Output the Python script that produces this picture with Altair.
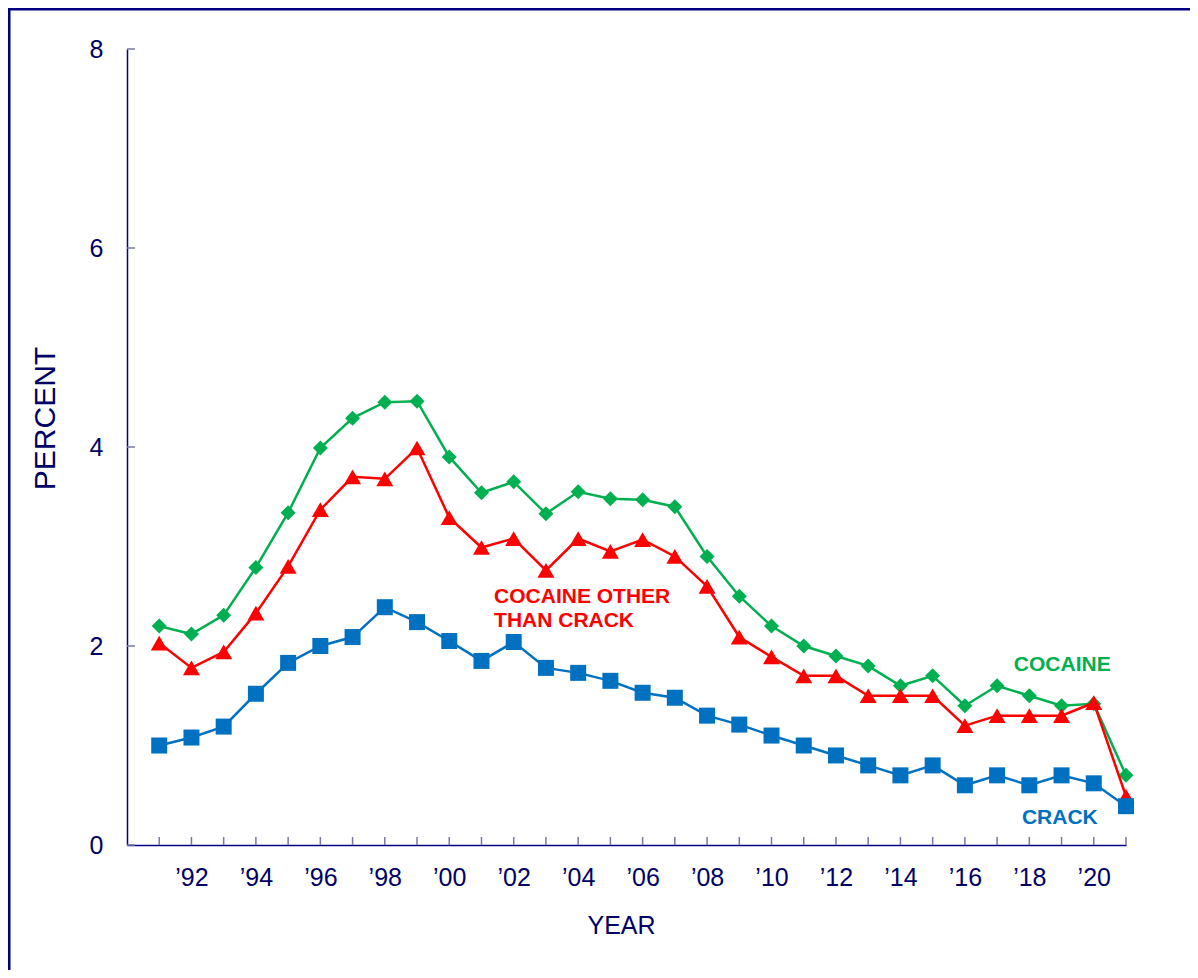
import altair as alt
import pandas as pd

# ---- data ----
years = list(range(1991, 2022))
cocaine = [2.2, 2.12, 2.31, 2.79, 3.34, 3.99, 4.29, 4.45, 4.46, 3.9,
           3.54, 3.65, 3.33, 3.55, 3.48, 3.47, 3.4, 2.9, 2.5, 2.2,
           2.0, 1.9, 1.8, 1.6, 1.7, 1.4, 1.6, 1.5, 1.4, 1.42, 0.7]
other = [2.03, 1.78, 1.94, 2.33, 2.8, 3.37, 3.7, 3.68, 3.99, 3.29,
         2.99, 3.08, 2.76, 3.08, 2.95, 3.07, 2.9, 2.6, 2.09, 1.89,
         1.7, 1.7, 1.5, 1.5, 1.5, 1.2, 1.3, 1.3, 1.3, 1.43, 0.49]
crack = [1.0, 1.08, 1.19, 1.52, 1.83, 2.0, 2.09, 2.39, 2.24, 2.05,
         1.85, 2.04, 1.78, 1.73, 1.65, 1.53, 1.48, 1.3, 1.21, 1.1,
         1.0, 0.9, 0.8, 0.7, 0.8, 0.6, 0.7, 0.6, 0.7, 0.62, 0.39]
y_ticks = [0, 2, 4, 6, 8]
x_label_years = list(range(1992, 2021, 2))

label_text = ["COCAINE OTHER", "THAN CRACK", "COCAINE", "CRACK"]
label_series = ["other", "other", "cocaine", "crack"]

# ---- styling ----
NAVY = "#000066"
AXIS = "#000080"
TICK = "#7777AA"
GREEN = "#00B050"
RED = "#FF0000"
BLUE = "#0070C0"
FONT = "Liberation Sans"
W, H = 999, 796

series = [
    ("cocaine", cocaine, GREEN, "diamond", 225),
    ("other", other, RED, "triangle-up", 289),
    ("crack", crack, BLUE, "square", 256),
]
colors = {"cocaine": GREEN, "other": RED, "crack": BLUE}

xscale = alt.Scale(domain=[1990, 2021], nice=False, zero=False)
yscale = alt.Scale(domain=[0, 8], nice=False)

x_axis = alt.Axis(
    values=x_label_years,
    labelExpr="'\u2019' + substring(toString(datum.value), 2)",
    ticks=False, grid=False,
    domainColor=AXIS, domainWidth=1.5,
    labelColor=NAVY, labelFont=FONT, labelFontSize=25, labelPadding=20,
    labelFlush=False, labelOverlap=False,
    title="YEAR", titleFont=FONT, titleFontSize=25, titleFontWeight="normal",
    titleColor=NAVY, titleBaseline="alphabetic", titleAlign="center",
    titleX=494, titleY=88,
)
y_axis = alt.Axis(
    values=y_ticks,
    ticks=False, grid=False,
    domainColor=AXIS, domainWidth=1.5,
    labelColor=NAVY, labelFont=FONT, labelFontSize=25, labelPadding=24,
    labelBaseline="middle",
    title="PERCENT", titleFont=FONT, titleFontSize=30, titleFontWeight="normal",
    titleColor=NAVY, titleBaseline="alphabetic", titleAlign="center",
    titleAngle=270, titleX=-73, titleY=369,
)


def X():
    return alt.X("year:Q", scale=xscale, axis=x_axis, title="YEAR")


def Y():
    return alt.Y("value:Q", scale=yscale, axis=y_axis, title="PERCENT")


layers = []

# frame lines (top and left edges of the figure border)
one = pd.DataFrame({"a": [0]})
frame_top = alt.Chart(one).mark_rule(color=AXIS, strokeWidth=3).encode(
    x=alt.value(-119), x2=alt.value(1200), y=alt.value(-40)
)
frame_left = alt.Chart(one).mark_rule(color=AXIS, strokeWidth=3).encode(
    x=alt.value(-118), y=alt.value(-41), y2=alt.value(1200)
)
layers += [frame_top, frame_left]

for name, vals, col, shape, size in series:
    df = pd.DataFrame({"year": years, "value": vals})
    line = alt.Chart(df).mark_line(color=col, strokeWidth=2.5).encode(x=X(), y=Y())
    pts = alt.Chart(df).mark_point(
        shape=shape, size=size, filled=True, color=col, opacity=1
    ).encode(x=X(), y=Y())
    layers += [line, pts]

# inward tick marks
xt = alt.Chart(pd.DataFrame({"year": years})).mark_rule(
    color=TICK, strokeWidth=1.5
).encode(x=X(), y=alt.value(H - 8), y2=alt.value(H))
yt = alt.Chart(pd.DataFrame({"value": y_ticks})).mark_rule(
    color=TICK, strokeWidth=1.5
).encode(y=Y(), x=alt.value(0), x2=alt.value(8))
layers += [xt, yt]

# series labels (placed in data coordinates)
label_year = [2001.39, 2001.39, 2017.52, 2017.77]
label_value = [2.432, 2.19, 1.749, 0.214]
ldf = pd.DataFrame({
    "t": label_text,
    "s": label_series,
    "year": label_year,
    "value": label_value,
})
ldf["c"] = ldf["s"].map(colors)
txt = alt.Chart(ldf).mark_text(
    align="left", baseline="alphabetic", font=FONT, fontSize=21, fontWeight="bold"
).encode(
    x=X(), y=Y(),
    text="t:N",
    color=alt.Color("c:N", scale=None),
)
layers.append(txt)

chart = alt.layer(*layers).properties(
    width=W, height=H,
    autosize=alt.AutoSizeParams(type="none"),
    padding={"left": 119, "top": 41, "right": 64, "bottom": 125},
    background="white",
).configure_view(strokeWidth=0)

chart.save("out.html", embed_options={"renderer": "svg", "actions": False})
